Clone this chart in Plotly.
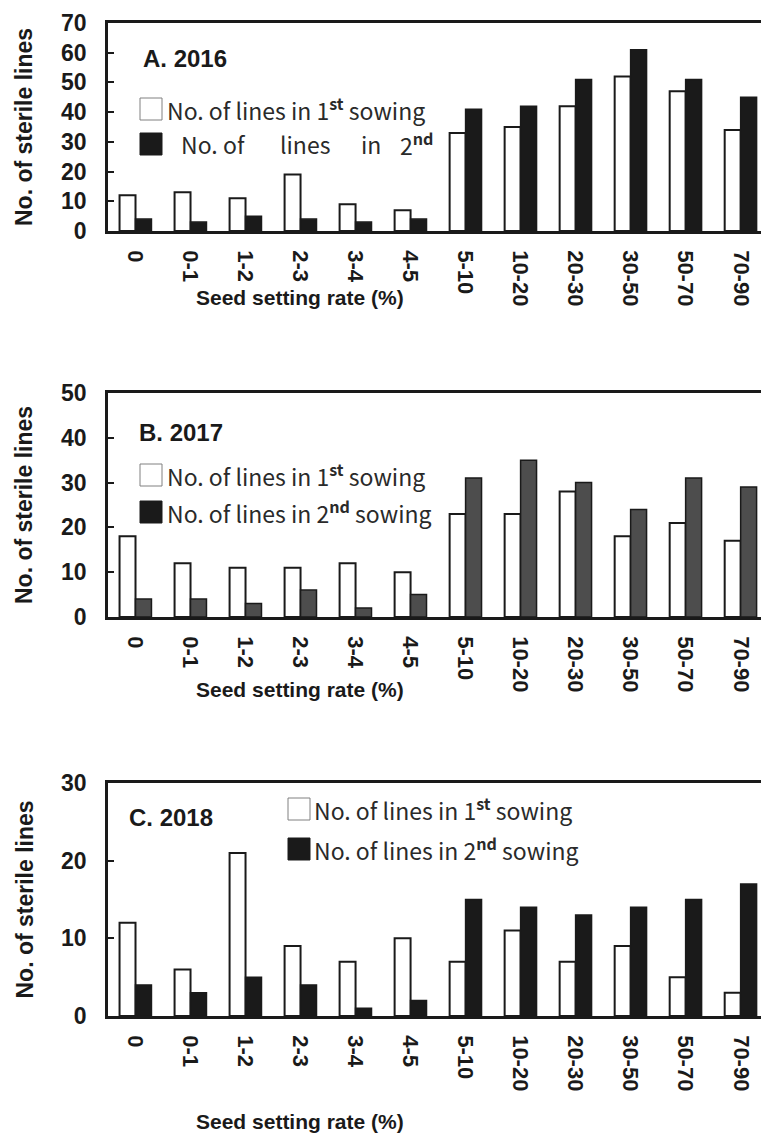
import plotly.graph_objects as go

categories = ["0", "0-1", "1-2", "2-3", "3-4", "4-5", "5-10", "10-20", "20-30", "30-50", "50-70", "70-90"]
a_first = [12, 13, 11, 19, 9, 7, 33, 35, 42, 52, 47, 34]
a_second = [4, 3, 5, 4, 3, 4, 41, 42, 51, 61, 51, 45]
b_first = [18, 12, 11, 11, 12, 10, 23, 23, 28, 18, 21, 17]
b_second = [4, 4, 3, 6, 2, 5, 31, 35, 30, 24, 31, 29]
c_first = [12, 6, 21, 9, 7, 10, 7, 11, 7, 9, 5, 3]
c_second = [4, 3, 5, 4, 1, 2, 15, 14, 13, 14, 15, 17]
y_max = [70, 50, 30]
panel_titles = ["A. 2016", "B. 2017", "C. 2018"]
y_title = "No. of sterile lines"
x_title = "Seed setting rate (%)"
leg1 = "No. of lines in 1<sup><b>st</b></sup> sowing"
leg2 = "No. of lines in 2<sup><b>nd</b></sup> sowing"

W, H = 761, 1137
BLACK = "#1a1a1a"
BOLD = dict(family="Liberation Sans, Arial", color=BLACK, weight="bold")
LEGF = dict(family="Noto Sans CJK JP, Noto Sans", size=23, color="#2a2a2a")
XR = [-0.5, 11.37]


def px(x):
    return x / W


def py(y):
    return 1 - y / H


idx = list(range(len(categories)))
bounds = [k + 0.5 for k in range(len(categories) - 1)]
panels = [
    dict(first=a_first, second=a_second, top=23, bot=231, fill2=BLACK),
    dict(first=b_first, second=b_second, top=393, bot=617, fill2="#4d4d4d"),
    dict(first=c_first, second=c_second, top=783, bot=1016, fill2=BLACK),
]

fig = go.Figure()
for i, p in enumerate(panels):
    n = "" if i == 0 else str(i + 1)
    m = str(i + 4)
    fig.add_trace(go.Bar(x=idx, y=p["first"], xaxis="x" + n, yaxis="y" + n,
                         marker=dict(color="white", line=dict(color=BLACK, width=2)),
                         offsetgroup="1", cliponaxis=False))
    fig.add_trace(go.Bar(x=idx, y=p["second"], xaxis="x" + n, yaxis="y" + n,
                         marker=dict(color=p["fill2"], line=dict(color=BLACK, width=1.5)),
                         offsetgroup="2", cliponaxis=False))
    fig.layout["xaxis" + n] = dict(
        domain=[px(108), 1], range=XR, anchor="y" + n, automargin=False,
        showline=True, linecolor=BLACK, linewidth=2.5, mirror=True,
        tickmode="array", tickvals=idx, ticktext=categories, ticks="",
        tickangle=90, tickfont=dict(size=22, **BOLD), ticklabelstandoff=12,
        showgrid=False, zeroline=False,
    )
    # boundary ticks between categories
    fig.layout["xaxis" + m] = dict(
        overlaying="x" + n, anchor="y" + n, side="bottom", range=XR, automargin=False,
        tickmode="array", tickvals=bounds, ticks="inside", ticklen=7, tickwidth=2,
        tickcolor=BLACK, showticklabels=False, showline=False, showgrid=False,
        zeroline=False,
    )
    fig.layout["yaxis" + n] = dict(
        domain=[py(p["bot"]), py(p["top"])], range=[0, y_max[i]], anchor="x" + n,
        automargin=False,
        dtick=10, ticks="inside", ticklen=6, tickwidth=2, tickcolor=BLACK,
        showline=True, linecolor=BLACK, linewidth=2.5,
        tickfont=dict(size=23, **BOLD), ticklabelstandoff=14,
        showgrid=False, zeroline=False,
    )

ann = []
shapes = []

# y-axis titles
for p in panels:
    ann.append(dict(x=px(24), y=py((p["top"] + p["bot"]) / 2), xref="paper", yref="paper",
                    text="<b>" + y_title + "</b>", textangle=-90, showarrow=False,
                    font=dict(size=23, **BOLD), xanchor="center", yanchor="middle"))
# x-axis titles
for yc in [298, 689, 1121]:
    ann.append(dict(x=px(300), y=py(yc), xref="paper", yref="paper",
                    text="<b>" + x_title + "</b>", showarrow=False,
                    font=dict(size=21, **BOLD), xanchor="center", yanchor="middle"))
# panel titles
for (xl, yc), t in zip([(141, 58), (137, 432), (127, 817)], panel_titles):
    ann.append(dict(x=px(xl), y=py(yc), xref="paper", yref="paper",
                    text="<b>" + t + "</b>", showarrow=False,
                    font=dict(size=24, **BOLD), xanchor="left", yanchor="middle"))

# legends: (square left, first row top, second row top, text left)
legs = [(140, 98, 133, 165), (140, 464, 501, 165), (288, 798, 838, 312)]
for j, (sx, t1, t2, tx) in enumerate(legs):
    shapes.append(dict(type="rect", xref="paper", yref="paper",
                       x0=px(sx), x1=px(sx + 22), y0=py(t1 + 22), y1=py(t1),
                       fillcolor="white", line=dict(color="#808080", width=1)))
    shapes.append(dict(type="rect", xref="paper", yref="paper",
                       x0=px(sx), x1=px(sx + 22), y0=py(t2 + 22), y1=py(t2),
                       fillcolor=BLACK, line=dict(color=BLACK, width=1)))
    ann.append(dict(x=px(tx), y=py(t1 + 11), xref="paper", yref="paper", text=leg1,
                    showarrow=False, font=LEGF, xanchor="left", yanchor="middle"))
    if j == 0:
        words = ["No.", "of", "lines", "in", "2<sup><b>nd</b></sup>"]
        wx = [179, 221, 278, 359, 398]
        for w, x0 in zip(words, wx):
            ann.append(dict(x=px(x0), y=py(t2 + 11), xref="paper", yref="paper", text=w,
                            showarrow=False, font=LEGF, xanchor="left", yanchor="middle"))
    else:
        ann.append(dict(x=px(tx), y=py(t2 + 11), xref="paper", yref="paper", text=leg2,
                        showarrow=False, font=LEGF, xanchor="left", yanchor="middle"))

fig.update_layout(
    width=W, height=H, margin=dict(l=0, r=0, t=0, b=0, autoexpand=False),
    paper_bgcolor="white", plot_bgcolor="white",
    barmode="group", bargap=0.42, bargroupgap=0,
    showlegend=False, annotations=ann, shapes=shapes,
)

fig.write_html("out.html", config={"displayModeBar": False},
               post_script="document.body.style.margin='0px';document.body.style.padding='0px';")
